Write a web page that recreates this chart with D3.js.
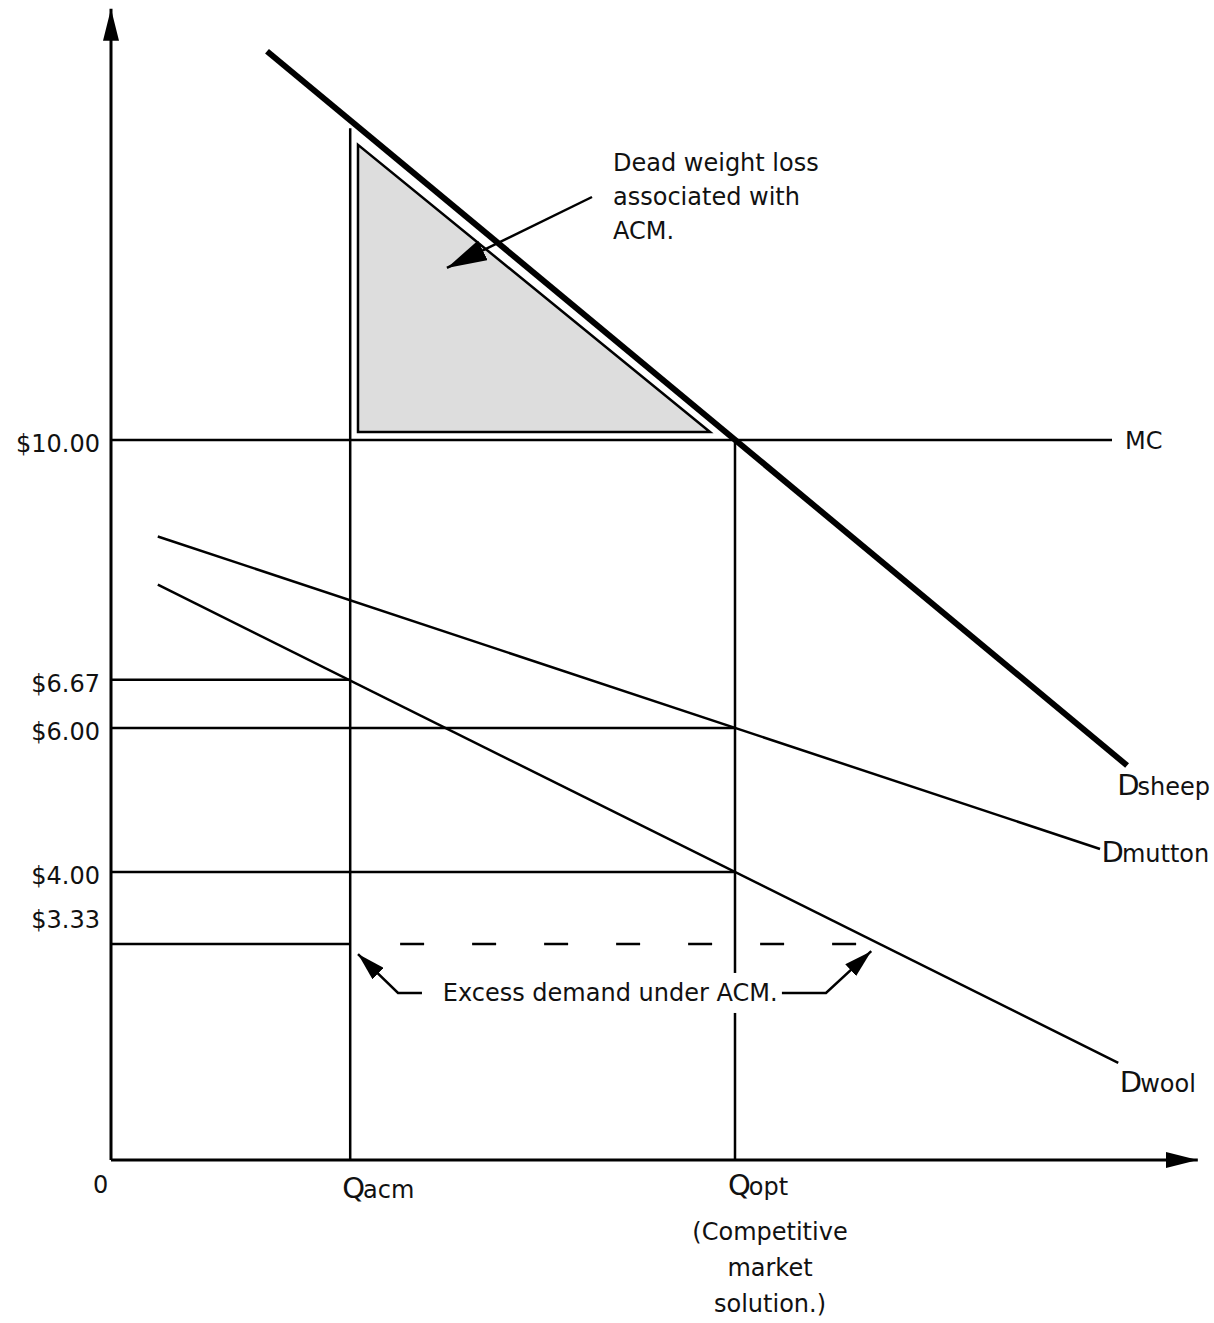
<!DOCTYPE html>
<html><head><meta charset="utf-8">
<script src="https://cdn.jsdelivr.net/npm/d3@7"></script>
<style>body{margin:0;background:#fff}text{font-family:"DejaVu Sans",Verdana,sans-serif;fill:#111}</style>
</head><body>
<svg id="c" width="1214" height="1323"></svg>
<script>
// ---- data (quantity units, price in $) ----
const qAcm = 4.6, qOpt = 12;
const priceMC = 10;
const sheep  = [[3.0, 15.4], [19.54, 5.48]];
const mutton = [[0.9, 8.66], [19.02, 4.32]];
const wool   = [[0.9, 7.99], [19.37, 1.35]];
const priceTicks = [10, 6.67, 6, 4, 3.33];
const priceTickLabels = ["$10.00", "$6.67", "$6.00", "$4.00", "$3.33"];
const refLines = [ {p:6.67, q:qAcm}, {p:6, q:qOpt}, {p:4, q:qOpt}, {p:3.0, q:qAcm} ];
const excessPrice = 3.0, excessEnd = 14.65;
const dwl = [[4.75, 14.1], [4.75, 10.11], [11.52, 10.11]];
const demandLabels = [
  {big:"D", small:"sheep",  q:19.35, p:5.24},
  {big:"D", small:"mutton", q:19.05, p:4.31},
  {big:"D", small:"wool",   q:19.4,  p:1.11}
];

const svg = d3.select("#c");
const x = d3.scaleLinear().domain([0, 12]).range([111, 735]);
const y = d3.scaleLinear().domain([0, 10]).range([1160, 440]);
const line = d3.line().x(d=>x(d[0])).y(d=>y(d[1]));

const defs = svg.append("defs");
function marker(id, L, h){
  defs.append("marker").attr("id",id).attr("markerUnits","userSpaceOnUse")
    .attr("viewBox",`0 ${-h} ${L} ${2*h}`).attr("refX",L).attr("refY",0)
    .attr("markerWidth",L).attr("markerHeight",2*h).attr("orient","auto")
    .append("path").attr("d",`M0,${-h}L${L},0L0,${h}Z`).attr("fill","#000");
}
marker("axisHead", 32, 8);
marker("bigHead", 40, 11);
marker("smallHead", 28, 8);

const g = svg.append("g").attr("stroke","#000").attr("fill","none");

// DWL triangle
g.append("path").attr("d", line(dwl)+"Z").attr("fill","#dddddd").attr("stroke-width",2.5);

// axes
g.append("line").attr("x1",x(0)).attr("y1",y(0)).attr("x2",x(0)).attr("y2",y(15.99))
  .attr("stroke-width",3).attr("marker-end","url(#axisHead)");
g.append("line").attr("x1",x(0)).attr("y1",y(0)).attr("x2",x(20.9)).attr("y2",y(0))
  .attr("stroke-width",3).attr("marker-end","url(#axisHead)");

// MC
g.append("line").attr("x1",x(0)).attr("x2",x(19.25)).attr("y1",y(priceMC)).attr("y2",y(priceMC)).attr("stroke-width",2.5);
// reference price lines
refLines.forEach(r=>{
  g.append("line").attr("x1",x(0)).attr("x2",x(r.q)).attr("y1",y(r.p)).attr("y2",y(r.p)).attr("stroke-width",2.5);
});
// verticals
g.append("line").attr("x1",x(qAcm)).attr("x2",x(qAcm)).attr("y1",y(0)).attr("y2",y(14.33)).attr("stroke-width",2.5);
g.append("line").attr("x1",x(qOpt)).attr("x2",x(qOpt)).attr("y1",y(0)).attr("y2",y(priceMC)).attr("stroke-width",2.5);

// dashed excess demand
g.append("line").attr("x1",x(5.56)).attr("x2",x(excessEnd)).attr("y1",y(excessPrice)).attr("y2",y(excessPrice))
  .attr("stroke-width",2.5).attr("stroke-dasharray","24 48");

// demand curves
g.append("path").attr("d",line(mutton)).attr("stroke-width",2.5);
g.append("path").attr("d",line(wool)).attr("stroke-width",2.5);
g.append("path").attr("d",line(sheep)).attr("stroke-width",6);

// DWL arrow
g.append("path").attr("d",line([[9.25,13.375],[6.46,12.39]])).attr("stroke-width",2.5).attr("marker-end","url(#bigHead)");
// Excess demand brackets
g.append("path").attr("d",line([[5.98,2.32],[5.52,2.32],[4.75,2.86]])).attr("stroke-width",2.5).attr("marker-end","url(#smallHead)");
g.append("path").attr("d",line([[12.9,2.32],[13.75,2.32],[14.62,2.90]])).attr("stroke-width",2.5).attr("marker-end","url(#smallHead)");

// ---- text ----
const t = svg.append("g").attr("font-size",24);
priceTicks.forEach((p,i)=>{
  t.append("text").attr("x",100).attr("y",y(p)+(p===3.33?8:12)).attr("text-anchor","end").text(priceTickLabels[i]);
});
t.append("text").attr("x",x(19.5)).attr("y",y(priceMC)+9).text("MC");
t.append("text").attr("x",93).attr("y",1193).text("0");

function subLabel(xx, yy, big, small){
  const tx = t.append("text").attr("x",xx).attr("y",yy);
  tx.append("tspan").attr("font-size",29).text(big);
  tx.append("tspan").attr("font-size",24).attr("dx",-2).text(small);
}
demandLabels.forEach(d=>subLabel(x(d.q), y(d.p)+12, d.big, d.small));
subLabel(x(qAcm)-8, 1198, "Q", "acm");
subLabel(x(qOpt)-7, 1195, "Q", "opt");

["(Competitive","market","solution.)"].forEach((s,i)=>{
  t.append("text").attr("x",770).attr("y",1240+i*36).attr("text-anchor","middle").text(s);
});
["Dead weight loss","associated with","ACM."].forEach((s,i)=>{
  t.append("text").attr("x",613).attr("y",171+i*34).text(s);
});
const bg = t.append("rect").attr("fill","#fff");
const ex = t.append("text").attr("x",x(9.6)).attr("y",y(2.32)+8).attr("text-anchor","middle").text("Excess demand under ACM.");
const bb = ex.node().getBBox();
bg.attr("x",bb.x-4).attr("y",bb.y-6).attr("width",bb.width+8).attr("height",bb.height+12);
</script>
</body></html>
